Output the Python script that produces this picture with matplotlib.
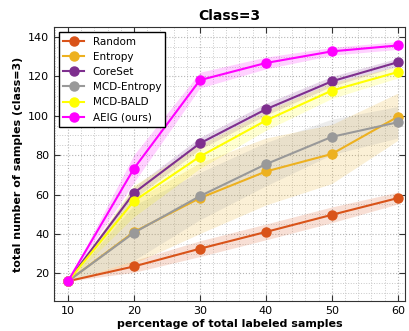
import numpy as np
import matplotlib
matplotlib.use("Agg")
import matplotlib.pyplot as plt
from matplotlib.ticker import AutoMinorLocator

x = [10, 20, 30, 40, 50, 60]

names = ["Random", "Entropy", "CoreSet", "MCD-Entropy", "MCD-BALD", "AEIG (ours)"]
colors = ["#d95319", "#edb120", "#7e2f8e", "#999999", "#ffff00", "#ff00ff"]

random_vals = [16, 23.5, 32.5, 41, 49.7, 58.2]
entropy_vals = [16, 41, 58.2, 71.7, 80.6, 99.5]
coreset_vals = [16, 60.8, 86, 103.3, 117.5, 127.2]
mcd_entropy_vals = [16, 40.6, 59.2, 75.4, 89.3, 96.7]
mcd_bald_vals = [16, 56.7, 79.3, 97.6, 112.8, 122.2]
aeig_vals = [16, 73.2, 118.1, 126.8, 132.7, 135.7]

random_std = [0, 3, 4, 4, 4, 3]
entropy_std = [0, 16, 18, 17, 15, 12]
coreset_std = [0, 3, 3, 3, 2.5, 2]
mcd_entropy_std = [0, 14, 12, 11, 9, 8]
mcd_bald_std = [0, 8, 6, 5, 4, 3]
aeig_std = [0, 7, 4, 3, 2, 2]

means = [random_vals, entropy_vals, coreset_vals, mcd_entropy_vals, mcd_bald_vals, aeig_vals]
stds = [random_std, entropy_std, coreset_std, mcd_entropy_std, mcd_bald_std, aeig_std]

fig = plt.figure(figsize=(4.1, 3.31), dpi=100)
ax = fig.add_axes([0.132, 0.091, 0.856, 0.827])

for name, c, m, s in zip(names, colors, means, stds):
    m = np.array(m)
    s = np.array(s)
    ax.fill_between(x, m - s, m + s, color=c, alpha=0.18, linewidth=0)
    ax.plot(x, m, color=c, marker="o", markersize=6.5, linewidth=1.5, label=name)

ax.set_xlim(7.9, 61.1)
ax.set_ylim(6, 145)
ax.set_xticks(x)
ax.set_yticks([20, 40, 60, 80, 100, 120, 140])
ax.xaxis.set_minor_locator(AutoMinorLocator(5))
ax.yaxis.set_minor_locator(AutoMinorLocator(4))
ax.grid(which="major", linestyle=":", color="#b5b5b5", linewidth=0.8)
ax.grid(which="minor", linestyle=":", color="#c8c8c8", linewidth=0.7)
ax.set_axisbelow(True)
ax.tick_params(which="major", direction="in", top=True, right=True, labelsize=8, length=4, color="#333333")
ax.tick_params(which="minor", length=0)
for sp in ax.spines.values():
    sp.set_color("#333333")

ax.set_xlabel("percentage of total labeled samples", fontsize=8, fontweight="bold", labelpad=2)
ax.set_ylabel("total number of samples (class=3)", fontsize=8, fontweight="bold")
ax.set_title("Class=3", fontsize=10, fontweight="bold", pad=5)

leg = ax.legend(loc="upper left", fontsize=7.5, fancybox=False, edgecolor="black", framealpha=1)
leg.get_frame().set_linewidth(1.0)

fig.savefig("out.png", dpi=100)
